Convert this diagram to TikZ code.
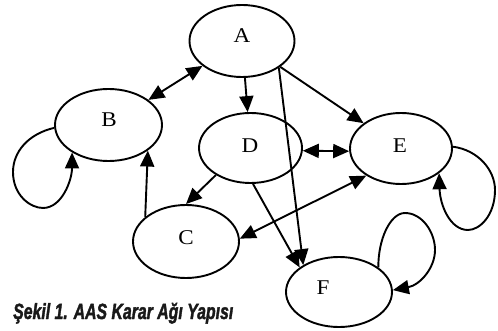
\documentclass[tikz,border=0pt]{standalone}
\usepackage{fontspec}
\setmainfont{Liberation Serif}
\newfontfamily\capfont{Liberation Sans}[BoldItalicFeatures={FakeBold=2}]
\usetikzlibrary{arrows.meta,shapes.geometric}
\begin{document}
\begin{tikzpicture}[x=1pt,y=-1pt,
  ell/.style={draw,ellipse,line width=1.9pt,inner sep=0pt},
  lab/.style={inner sep=0pt,font=\fontsize{21}{21}\selectfont},
  edge/.style={line width=1.9pt},
  tip/.style={edge,-{Triangle[length=16pt,width=14pt]}},
  dtip/.style={edge,{Triangle[length=16pt,width=14pt]}-{Triangle[length=16pt,width=14pt]}}]
\useasboundingbox (0,0) rectangle (498,331);
% ellipses
\node[ell,minimum width=105pt,minimum height=72pt] (A) at (242,41) {};
\node[ell,minimum width=107pt,minimum height=72pt] (B) at (108.5,125) {};
\node[ell,minimum width=103pt,minimum height=70pt] (D) at (250.5,148) {};
\node[ell,minimum width=102pt,minimum height=71pt] (E) at (401,148.5) {};
\node[ell,minimum width=106pt,minimum height=73pt] (C) at (186,241.5) {};
\node[ell,minimum width=106pt,minimum height=70pt] (F) at (339,292) {};
% labels
\node[lab] (Al) at (242,36) {\scalebox{1.1}[1]{A}};
\node[lab] (Bl) at (109,120) {\scalebox{1.1}[1]{B}};
\node[lab] (Dl) at (250,146) {\scalebox{1.1}[1]{D}};
\node[lab] (El) at (400,146) {\scalebox{1.1}[1]{E}};
\node[lab] (Cl) at (186,238) {\scalebox{1.1}[1]{C}};
\node[lab] (Fl) at (323,288) {\scalebox{1.1}[1]{F}};
% connectors
\draw[dtip] (A) -- (B);
\draw[tip] (A) -- (D);
\draw[tip] (A) -- (E);
\draw[tip] (A.-36) -- (F.143);
\draw[dtip] (D.-3) -- (E.183);
\draw[tip] (D.218) -- (C.north);
\draw[tip] (D.-86) -- (F.148);
\draw[dtip] (C.3) -- (E.218);
\draw[tip] (C.149) -- (B.-33);
% self loops
\draw[tip] (B.183) .. controls (28,134) and (13,152) .. (13,172)
  .. controls (13,195) and (30,208) .. (43,208)
  .. controls (62,208) and (72,180) .. (B.217);
\draw[tip] (E.2) .. controls (478,150) and (495,170) .. (495,190)
  .. controls (495,215) and (480,230) .. (468,230)
  .. controls (450,230) and (440,205) .. (E.-33);
\draw[tip] (F.32) .. controls (378,240) and (390,213) .. (405,213)
  .. controls (422,213) and (435,232) .. (435,250)
  .. controls (435,268) and (420,285) .. (F.2);
% caption
\node[anchor=base west,inner sep=0pt,text=black!90] (cap) at (13,319)
  {\scalebox{0.72}[1]{\capfont\bfseries\itshape\fontsize{22}{22}\selectfont Şekil 1. AAS Karar Ağı Yapısı}};
\end{tikzpicture}
\end{document}
